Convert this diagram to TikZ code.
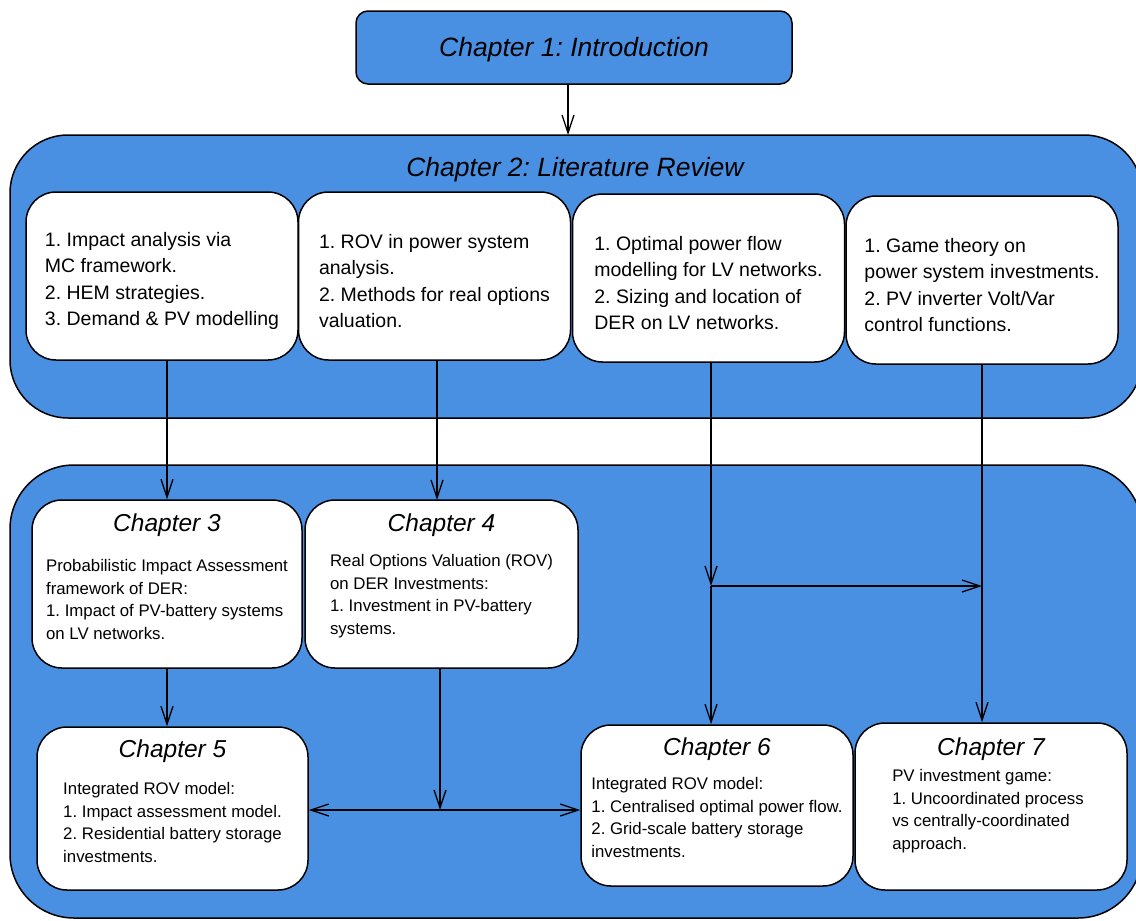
\documentclass[tikz,border=0pt]{standalone}
\usepackage{fontspec}
\setmainfont{Liberation Sans}
\usepackage{tikz}
\usetikzlibrary{arrows.meta, positioning, calc}
\definecolor{chblue}{RGB}{74,144,226}
\frenchspacing
\tikzset{
  container/.style  = {rectangle, draw, line width=1.5pt, fill=chblue, rounded corners=58pt,
                       inner sep=0pt},
  introbox/.style   = {rectangle, draw, line width=1.5pt, fill=chblue, rounded corners=12pt,
                       minimum width=436pt, minimum height=73pt},
  bigtitle/.style   = {font=\fontsize{26.5}{30}\selectfont\itshape, inner sep=0pt},
  topic/.style      = {rectangle, draw, line width=1.5pt, fill=white, rounded corners=30pt,
                       minimum width=272pt, minimum height=168pt},
  topictext/.style  = {align=left, inner sep=0pt, font=\fontsize{19.5}{26.6}\selectfont},
  chapbox/.style    = {rectangle, draw, line width=1.5pt, fill=white, rounded corners=30pt},
  chaptitle/.style  = {font=\fontsize{24.5}{28}\selectfont\itshape, inner sep=0pt},
  chapbody/.style   = {align=left, inner sep=0pt, font=\fontsize{16.8}{22.5}\selectfont},
  flow/.style       = {-{Straight Barb[length=18pt, width=12pt]}, line width=1.3pt},
}

\begin{document}
\begin{tikzpicture}[x=1pt, y=-1pt]
  \useasboundingbox (0,0) rectangle (1136,921);

  % containers
  \node[container, minimum width=1132pt, minimum height=283pt] (review) at (576,276.5) {};
  \node[container, minimum width=1132pt, minimum height=453pt, rounded corners=64pt]
    (core) at (576,691.5) {};

  \node[introbox] (ch1) at (574,47.5) {};
  \node[bigtitle] (ch1t) at (574,50) {Chapter 1: Introduction};
  \node[bigtitle] (ch2) at (575,170) {Chapter 2: Literature Review};

  % literature topics
  \node[topic] (litA) at (162,276) {};
  \node[topictext] (litAt) at (162,281) {1. Impact analysis via\\MC framework.\\2. HEM strategies.\\3. Demand \& PV modelling};
  \node[topic] (litB) at (434.5,276) {};
  \node[topictext] (litBt) at (434.5,281) {1. ROV in power system\\analysis.\\2. Methods for real options\\valuation.};
  \node[topic] (litC) at (708.5,278) {};
  \node[topictext] (litCt) at (708.5,283) {1. Optimal power flow\\modelling for LV networks.\\2. Sizing and location of\\DER on LV networks.};
  \node[topic] (litD) at (982,280) {};
  \node[topictext] (litDt) at (982,285) {1. Game theory on\\power system investments.\\2. PV inverter Volt/Var\\control functions.};

  % chapters 3--7
  \node[chapbox, minimum width=270pt, minimum height=168pt] (ch3) at (167,584) {};
  \node[chaptitle, below=14pt of ch3.north] (ch3t) {Chapter 3};
  \node[chapbody] (ch3b) at ([yshift=-100pt]ch3.north) {Probabilistic Impact Assessment\\framework of DER:\\1. Impact of PV-battery systems\\on LV networks.};

  \node[chapbox, minimum width=273pt, minimum height=168pt] (ch4) at (441.5,584) {};
  \node[chaptitle, below=14pt of ch4.north] (ch4t) {Chapter 4};
  \node[chapbody] (ch4b) at ([yshift=-97pt]ch4.north) {Real Options Valuation (ROV)\\on DER Investments:\\1. Investment in PV-battery\\systems.};

  \node[chapbox, minimum width=271pt, minimum height=163pt] (ch5) at (172.5,808.5) {};
  \node[chaptitle, below=13pt of ch5.north] (ch5t) {Chapter 5};
  \node[chapbody] (ch5b) at ([yshift=-96pt]ch5.north) {Integrated ROV model:\\1. Impact assessment model.\\2. Residential battery storage\\investments.};

  \node[chapbox, minimum width=272pt, minimum height=161pt] (ch6) at (717,805.5) {};
  \node[chaptitle, below=13pt of ch6.north] (ch6t) {Chapter 6};
  \node[chapbody] (ch6b) at ([yshift=-93pt]ch6.north) {Integrated ROV model:\\1. Centralised optimal power flow.\\2. Grid-scale battery storage\\investments.};

  \node[chapbox, minimum width=272pt, minimum height=167pt] (ch7) at (991,806.5) {};
  \node[chaptitle, below=15pt of ch7.north] (ch7t) {Chapter 7};
  \node[chapbody] (ch7b) at ([xshift=-3pt, yshift=-89pt]ch7.north) {PV investment game:\\1. Uncoordinated process\\vs centrally-coordinated\\approach.};

  % junctions
  \coordinate (jC) at (711,586);
  \coordinate (jD) at (litD.south |- jC);
  \coordinate (jE) at (440,810);

  \draw[flow] (ch1.south -| 568,0) -- (568,135);
  \draw[flow] (litA.south -| ch3.north) -- (ch3.north);
  \draw[flow] (litB.south -| 437,0) -- (437,500);
  \draw[flow] (litC.south -| jC) -- (jC);
  \draw[flow] (jC) -- (jC |- ch6.north);
  \draw[flow] (jC) -- (jD);
  \draw[flow] (litD.south) -- (litD.south |- ch7.north);
  \draw[flow] (ch3.south) -- (ch3.south |- ch5.north);
  \draw[flow] (ch4.south -| jE) -- (jE);
  \draw[flow] (jE) -- (jE -| ch5.east);
  \draw[flow] (jE) -- (jE -| ch6.west);
\end{tikzpicture}
\end{document}
